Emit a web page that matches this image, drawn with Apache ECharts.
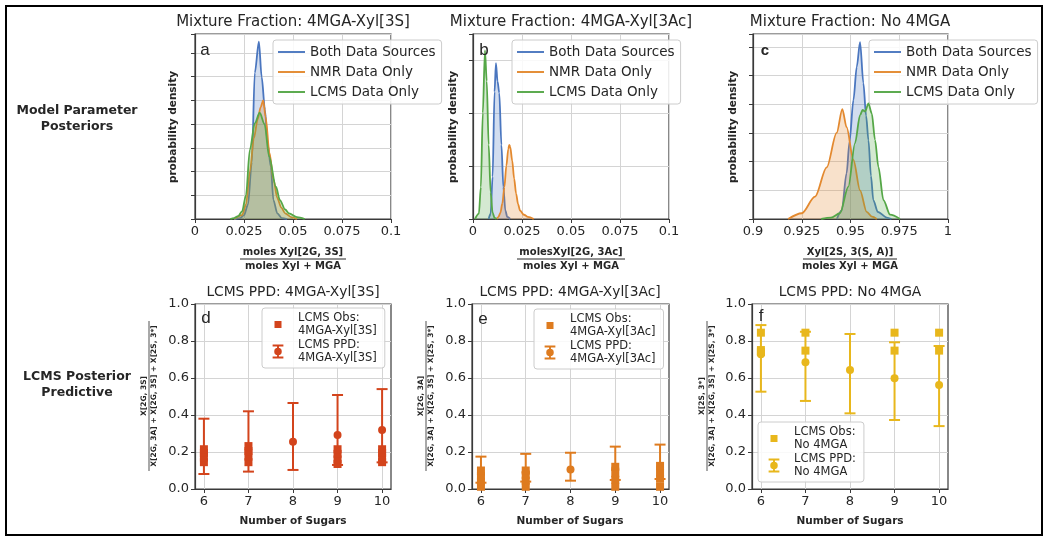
<!DOCTYPE html>
<html><head><meta charset="utf-8">
<script src="https://cdn.jsdelivr.net/npm/echarts@6/dist/echarts.min.js"></script>
<style>html,body{margin:0;padding:0;background:#fff}#c{width:1050px;height:545px}</style>
</head><body><div id="c"></div><script>
// ---------- data: top row posterior densities ([fraction, density]) ----------
const bothA = [[0.020,0],[0.023,1],[0.025,4],[0.027,15],[0.029,60],[0.0305,154],[0.0326,187],[0.034,150],[0.0357,115],[0.037,80],[0.0387,55],[0.040,20],[0.042,6],[0.0443,1],[0.047,0]];
const nmrA  = [[0.020,0],[0.024,4],[0.026,15],[0.028,50],[0.030,85],[0.032,105],[0.0335,118],[0.0348,125],[0.036,108],[0.038,70],[0.040,42],[0.042,22],[0.044,12],[0.046,6],[0.049,2],[0.052,0]];
const lcmsA = [[0.018,0],[0.020,1],[0.022,3],[0.024,8],[0.026,25],[0.028,73],[0.0305,101],[0.033,112],[0.0355,100],[0.0378,66],[0.0413,34],[0.0433,20],[0.046,10],[0.048,6],[0.052,2],[0.056,0]];

const bothB = [[0.008,0],[0.009,5],[0.010,40],[0.011,120],[0.0117,147],[0.0125,130],[0.0134,119],[0.0145,70],[0.0155,30],[0.0165,8],[0.0175,2],[0.019,0]];
const nmrB  = [[0.012,0],[0.013,2],[0.014,6],[0.015,15],[0.016,30],[0.017,50],[0.018,66],[0.0185,70],[0.019,68],[0.020,55],[0.021,38],[0.022,24],[0.023,14],[0.024,8],[0.026,4],[0.028,2],[0.031,0]];
const lcmsB = [[0.001,0],[0.003,5],[0.004,30],[0.005,100],[0.0061,159],[0.007,130],[0.008,70],[0.009,25],[0.010,6],[0.011,1],[0.012,0]];

const bothC = [[0.943,0],[0.9455,3],[0.948,16],[0.9495,27],[0.9515,41.5],[0.9532,53],[0.9549,61.7],[0.9566,47.4],[0.958,36],[0.9592,27.5],[0.9605,15],[0.9617,6.6],[0.964,2.5],[0.9686,0.5],[0.971,0]];
const nmrC  = [[0.918,0],[0.925,2],[0.9318,7.8],[0.9378,18],[0.9429,30],[0.9458,38.3],[0.948,32],[0.9515,20.6],[0.9549,10],[0.9583,2.5],[0.961,0.8],[0.9635,0]];
const lcmsC = [[0.935,0],[0.940,0.5],[0.9446,2],[0.9489,11.3],[0.9523,26.4],[0.9549,36.2],[0.9562,38],[0.9575,37.5],[0.9592,40.3],[0.9609,36.8],[0.9626,27.5],[0.9643,18.2],[0.9669,6.6],[0.9703,1.5],[0.9754,0]];

const curveNames = ['Both Data Sources','NMR Data Only','LCMS Data Only'];

// ---------- data: bottom row posterior predictive ----------
const sugars = [6,7,8,9,10];
const ppd3S_mid = [0.19,0.205,0.256,0.292,0.319];
const ppd3S_lo  = [0.081,0.094,0.103,0.13,0.144];
const ppd3S_hi  = [0.38,0.42,0.465,0.508,0.54];
const obs3S = [[6,0.145],[6,0.17],[6,0.195],[6,0.215],[7,0.145],[7,0.175],[7,0.205],[7,0.232],[9,0.135],[9,0.16],[9,0.19],[9,0.215],[10,0.145],[10,0.17],[10,0.195],[10,0.215]];

const ppd3Ac_mid = [0.08,0.09,0.106,0.11,0.115];
const ppd3Ac_lo  = [0.034,0.04,0.045,0.049,0.054];
const ppd3Ac_hi  = [0.175,0.19,0.196,0.229,0.24];
const obs3Ac = [[6,0.012],[6,0.04],[6,0.07],[6,0.10],[7,0.012],[7,0.045],[7,0.075],[7,0.10],[9,0.012],[9,0.05],[9,0.085],[9,0.12],[10,0.012],[10,0.055],[10,0.09],[10,0.125]];

const ppdNo_mid = [0.728,0.685,0.643,0.598,0.562];
const ppdNo_lo  = [0.526,0.476,0.409,0.373,0.34];
const ppdNo_hi  = [0.886,0.85,0.838,0.793,0.773];
const obsNo = [[6,0.845],[6,0.751],[6,0.74],[7,0.845],[7,0.748],[9,0.845],[9,0.748],[10,0.845],[10,0.748]];

// ---------- styling ----------
const FONT = 'DejaVu Sans';
const cBlue = '#4a76bf', cOrange = '#e3892f', cGreen = '#55a747';
const curveColors = [cBlue, cOrange, cGreen];
const cD = '#d3441c', cE = '#de7b1f', cF = '#e8b71c';
const gridColor = '#d4d4d4', frameColor = '#3a3a3a', txt = '#262626';

const grids = [
  {left:195, top:34, width:196, height:185},
  {left:473, top:34, width:196, height:185},
  {left:753, top:34, width:195, height:185},
  {left:195, top:304, width:196, height:185},
  {left:472, top:304, width:197, height:185},
  {left:752, top:304, width:196, height:185}
].map(g => Object.assign({show:true, borderColor:frameColor, borderWidth:1.2, backgroundColor:'transparent', containLabel:false}, g));

function topX(i, min, max){
  return {gridIndex:i, type:'value', min:min, max:max, interval:0.025,
    axisLine:{show:true, lineStyle:{color:frameColor, width:1.2}},
    axisTick:{show:true, length:4, lineStyle:{color:frameColor}},
    axisLabel:{fontFamily:FONT, fontSize:13, color:txt, margin:6, formatter: v => String(+v.toFixed(3))},
    splitLine:{show:true, lineStyle:{color:gridColor, width:1}}};
}
function topY(i, max, interval){
  return {gridIndex:i, type:'value', min:0, max:max, interval:interval,
    axisLine:{show:true, lineStyle:{color:frameColor, width:1.2}},
    axisTick:{show:true, length:4, lineStyle:{color:frameColor}},
    axisLabel:{show:false},
    splitLine:{show:true, lineStyle:{color:gridColor, width:1}}};
}
function botX(i){
  return {gridIndex:i, type:'value', min:5.8, max:10.2,
    axisLine:{show:true, lineStyle:{color:frameColor, width:1.2}},
    axisTick:{show:true, length:4, customValues:sugars, lineStyle:{color:frameColor}},
    axisLabel:{fontFamily:FONT, fontSize:13, color:txt, margin:6, customValues:sugars},
    splitLine:{show:true, lineStyle:{color:gridColor, width:1}}};
}
function botY(i){
  return {gridIndex:i, type:'value', min:0, max:1, interval:0.2,
    axisLine:{show:true, lineStyle:{color:frameColor, width:1.2}},
    axisTick:{show:true, length:4, lineStyle:{color:frameColor}},
    axisLabel:{fontFamily:FONT, fontSize:13, color:txt, margin:6, formatter: v => v.toFixed(1)},
    splitLine:{show:true, lineStyle:{color:gridColor, width:1}}};
}

const series = [];
[[bothA,nmrA,lcmsA],[bothB,nmrB,lcmsB],[bothC,nmrC,lcmsC]].forEach((set, p) => {
  set.forEach((d, k) => {
    series.push({type:'line', name:curveNames[k], xAxisIndex:p, yAxisIndex:p, data:d,
      symbol:'none', smooth:0.3, smoothMonotone:'x',
      lineStyle:{color:curveColors[k], width:1.8}, itemStyle:{color:curveColors[k]},
      areaStyle:{color:curveColors[k], opacity:0.25}, z:2+k});
  });
});

function errRender(color){
  return function(params, api){
    const x = api.value(0);
    const p1 = api.coord([x, api.value(2)]);
    const p2 = api.coord([x, api.value(1)]);
    const hw = 5.5;
    const st = {stroke:color, lineWidth:2};
    return {type:'group', children:[
      {type:'line', shape:{x1:p1[0],y1:p1[1],x2:p2[0],y2:p2[1]}, style:st},
      {type:'line', shape:{x1:p1[0]-hw,y1:p1[1],x2:p1[0]+hw,y2:p1[1]}, style:st},
      {type:'line', shape:{x1:p2[0]-hw,y1:p2[1],x2:p2[0]+hw,y2:p2[1]}, style:st}
    ]};
  };
}
const bottomSets = [
  {idx:3, color:cD, tag:'4MGA-Xyl[3S]', mid:ppd3S_mid, lo:ppd3S_lo, hi:ppd3S_hi, obs:obs3S},
  {idx:4, color:cE, tag:'4MGA-Xyl[3Ac]', mid:ppd3Ac_mid, lo:ppd3Ac_lo, hi:ppd3Ac_hi, obs:obs3Ac},
  {idx:5, color:cF, tag:'No 4MGA', mid:ppdNo_mid, lo:ppdNo_lo, hi:ppdNo_hi, obs:obsNo}
];
bottomSets.forEach(s => {
  s.obsName = 'LCMS Obs:\n' + s.tag;
  s.ppdName = 'LCMS PPD:\n' + s.tag;
  series.push({type:'custom', name:s.ppdName, xAxisIndex:s.idx, yAxisIndex:s.idx,
    data:sugars.map((n,i)=>[n, s.lo[i], s.hi[i]]), encode:{x:0, y:[1,2]},
    renderItem:errRender(s.color), itemStyle:{color:s.color}, z:3});
  series.push({type:'scatter', name:s.ppdName, xAxisIndex:s.idx, yAxisIndex:s.idx,
    data:sugars.map((n,i)=>[n, s.mid[i]]), symbol:'circle', symbolSize:8,
    itemStyle:{color:s.color, opacity:1}, z:4});
  series.push({type:'scatter', name:s.obsName, xAxisIndex:s.idx, yAxisIndex:s.idx,
    data:s.obs, symbol:'rect', symbolSize:8, itemStyle:{color:s.color, opacity:1}, z:5});
});

const legendBox = {backgroundColor:'rgba(255,255,255,0.85)', borderColor:'#cccccc', borderWidth:1, borderRadius:3};
const lineIcon = 'path://M0,0h27v1.9h-27z';
function topLegend(left){
  return Object.assign({orient:'vertical', left:left, top:40, itemWidth:27, itemHeight:10, itemGap:6,
    padding:[5,6,5,5], selectedMode:false,
    data:curveNames.map(n => ({name:n, icon:lineIcon})),
    textStyle:{fontFamily:FONT, fontSize:13.5, color:txt}}, legendBox);
}
const squareIcon = 'path://M0,0h0.05v0.05h-0.05z M3.5,3.5h7v7h-7z M13.95,13.95h0.05v0.05h-0.05z';
const ebIcon = 'path://M0,0h10v1.8h-10z M4.1,0h1.8v13h-1.8z M0,11.2h10v1.8h-10z M5,3A3.5,3.5 0 1,1 4.99,3z';
function botLegend(s, left, top){
  return Object.assign({orient:'vertical', left:left, top:top, itemWidth:30, itemHeight:14, itemGap:2,
    padding:[4,8,4,9], selectedMode:false,
    data:[{name:s.obsName, icon:squareIcon}, {name:s.ppdName, icon:ebIcon}],
    textStyle:{fontFamily:FONT, fontSize:11.5, lineHeight:12.5, color:txt}}, legendBox);
}

// ---------- free text ----------
const g = [];
function T(x, y, text, font, extra){
  g.push(Object.assign({type:'text', x:x, y:y, z:50,
    style:{text:text, font:font, fill:txt, align:'center', verticalAlign:'middle'}}, extra||{}));
}
function frac(cx, y, num, den, w){
  T(cx, y, num, 'bold 10px ' + FONT);
  g.push({type:'line', z:50, shape:{x1:cx-w/2, y1:y+7, x2:cx+w/2, y2:y+7}, style:{stroke:txt, lineWidth:1}});
  T(cx, y+14, den, 'bold 10px ' + FONT);
}
function vfrac(cx, cy, num, den, w){
  g.push({type:'group', x:cx, y:cy, rotation:Math.PI/2, z:50, children:[
    {type:'text', x:0, y:-4.6, style:{text:num, font:'bold 7.5px ' + FONT, fill:txt, align:'center', verticalAlign:'middle'}},
    {type:'line', shape:{x1:-w/2, y1:0, x2:w/2, y2:0}, style:{stroke:txt, lineWidth:0.8}},
    {type:'text', x:0, y:4.6, style:{text:den, font:'bold 7.5px ' + FONT, fill:txt, align:'center', verticalAlign:'middle'}}
  ]});
}
// outer frame
g.push({type:'rect', z:60, shape:{x:6, y:6, width:1036, height:529}, style:{fill:'none', stroke:'#000', lineWidth:2}});
// row labels
T(77, 111, 'Model Parameter', 'bold 12.5px ' + FONT);
T(77, 127, 'Posteriors', 'bold 12.5px ' + FONT);
T(77, 377, 'LCMS Posterior', 'bold 12.5px ' + FONT);
T(77, 393, 'Predictive', 'bold 12.5px ' + FONT);
// titles
T(293, 22, 'Mixture Fraction: 4MGA-Xyl[3S]', '15px ' + FONT);
T(571, 22, 'Mixture Fraction: 4MGA-Xyl[3Ac]', '15px ' + FONT);
T(850, 22, 'Mixture Fraction: No 4MGA', '15px ' + FONT);
T(293, 292, 'LCMS PPD: 4MGA-Xyl[3S]', '13.8px ' + FONT);
T(570, 292, 'LCMS PPD: 4MGA-Xyl[3Ac]', '13.8px ' + FONT);
T(850, 292, 'LCMS PPD: No 4MGA', '13.8px ' + FONT);
// panel letters
T(205, 50, 'a', '17px Liberation Sans');
T(484, 50, 'b', '17px Liberation Sans');
T(765, 51, 'c', 'bold 15px Liberation Sans');
T(206, 318, 'd', '17px Liberation Sans');
T(483, 319, 'e', '17px Liberation Sans');
T(761, 316, 'f', '17px Liberation Sans');
// y names top
[[173,127],[453,127],[733,127]].forEach(p => T(p[0], p[1], 'probability density', 'bold 10.5px ' + FONT, {rotation:Math.PI/2}));
// x names top (fractions)
frac(293, 252, 'moles Xyl[2G, 3S]', 'moles Xyl + MGA', 106);
frac(571, 252, 'molesXyl[2G, 3Ac]', 'moles Xyl + MGA', 108);
frac(850, 252, 'Xyl[2S, 3(S, A)]', 'moles Xyl + MGA', 94);
// x names bottom
T(293, 521, 'Number of Sugars', 'bold 10.5px ' + FONT);
T(570, 521, 'Number of Sugars', 'bold 10.5px ' + FONT);
T(850, 521, 'Number of Sugars', 'bold 10.5px ' + FONT);
// y names bottom (rotated fractions)
const denBot = 'X[2G, 3A] + X[2G, 3S] + X[2S, 3*]';
vfrac(149, 396, 'X[2G, 3S]', denBot, 150);
vfrac(426, 396, 'X[2G, 3A]', denBot, 150);
vfrac(707, 396, 'X[2S, 3*]', denBot, 150);

const option = {
  animation:false,
  backgroundColor:'#ffffff',
  textStyle:{fontFamily:FONT},
  grid:grids,
  xAxis:[topX(0,0,0.1), topX(1,0,0.1), topX(2,0.9,1.0), botX(3), botX(4), botX(5)],
  yAxis:[topY(0,195,25), topY(1,174.5,50), topY(2,64.5,10), botY(3), botY(4), botY(5)],
  legend:[topLegend(273), topLegend(512), topLegend(869),
          botLegend(bottomSets[0],262,308), botLegend(bottomSets[1],534,309), botLegend(bottomSets[2],758,422)],
  series:series,
  graphic:{elements:g}
};
const chart = echarts.init(document.getElementById('c'));
chart.setOption(option);
</script></body></html>
